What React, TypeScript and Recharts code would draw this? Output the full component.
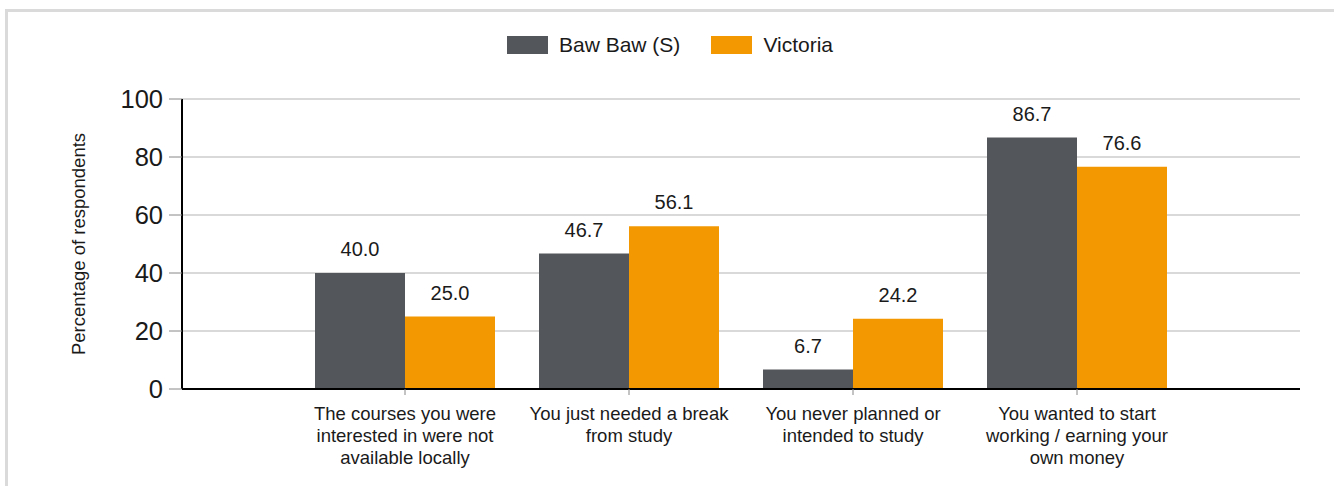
import React from 'react';
import { BarChart, Bar, XAxis, YAxis, CartesianGrid, LabelList } from 'recharts';

const categories = [
  'The courses you were\ninterested in were not\navailable locally',
  'You just needed a break\nfrom study',
  'You never planned or\nintended to study',
  'You wanted to start\nworking / earning your\nown money',
];
const bawBaw = [40.0, 46.7, 6.7, 86.7];
const victoria = [25.0, 56.1, 24.2, 76.6];
const yTicks = [0, 20, 40, 60, 80, 100];
const seriesNames = ['Baw Baw (S)', 'Victoria'];
const seriesColors = ['#53565A', '#F39800'];

const data = categories.map((name, i) => ({ name, baw: bawBaw[i], vic: victoria[i] }));

const FONT = '"Liberation Sans", Arial, sans-serif';

const CategoryTick = (props: any) => {
  const { x, y, payload } = props;
  const lines = String(payload.value).split('\n');
  return (
    <text x={x} y={y} textAnchor="middle" fontSize={18.5} fontFamily={FONT} fill="#1a1a1a">
      {lines.map((l, i) => (
        <tspan key={i} x={x} dy={i === 0 ? 23 : 22}>
          {l}
        </tspan>
      ))}
    </text>
  );
};

const YTitle = (props: any) => {
  const { viewBox } = props;
  const cx = viewBox.x + 16;
  const cy = viewBox.y + viewBox.height / 2;
  return (
    <text
      x={cx}
      y={cy}
      transform={`rotate(-90, ${cx}, ${cy})`}
      textAnchor="middle"
      dominantBaseline="central"
      fontSize={18.5}
      fontFamily={FONT}
      fill="#1a1a1a"
    >
      Percentage of respondents
    </text>
  );
};

const Legend = () => (
  <div
    style={{
      position: 'absolute',
      left: 507,
      top: 33,
      display: 'flex',
      alignItems: 'center',
      fontFamily: FONT,
      fontSize: 21,
      color: '#1a1a1a',
    }}
  >
    {seriesNames.map((n, i) => (
      <div key={n} style={{ display: 'flex', alignItems: 'center', marginRight: i === 0 ? 31 : 0 }}>
        <div style={{ width: 41, height: 18, background: seriesColors[i], marginRight: 11 }} />
        <span>{n}</span>
      </div>
    ))}
  </div>
);

export default function App() {
  return (
    <div
      style={{
        position: 'absolute',
        left: 0,
        top: 0,
        width: 1334,
        height: 486,
        overflow: 'hidden',
        background: '#fff',
      }}
    >
      <div
        style={{
          position: 'absolute',
          left: 5,
          top: 9,
          width: 1400,
          height: 600,
          border: '3px solid #dadada',
        }}
      />
      <Legend />
      <div style={{ position: 'absolute', left: 0, top: 0 }}>
        <BarChart
          width={1334}
          height={486}
          data={data}
          margin={{ top: 99, right: 34, bottom: 7, left: 62 }}
          barCategoryGap={22}
          barGap={0}
        >
          <CartesianGrid vertical={false} stroke="#d9d9d9" strokeWidth={2} />
          <XAxis
            dataKey="name"
            height={90}
            padding={{ left: 111, right: 111 }}
            axisLine={{ stroke: '#000', strokeWidth: 2 }}
            tickLine={{ stroke: '#888' }}
            tickSize={6}
            tickMargin={2}
            interval={0}
            tick={<CategoryTick />}
          />
          <YAxis
            width={120}
            domain={[0, 100]}
            ticks={yTicks}
            axisLine={{ stroke: '#000', strokeWidth: 2 }}
            tickLine={{ stroke: '#888' }}
            tickSize={13}
            tickMargin={6}
            tick={{ fontSize: 25.5, fontFamily: FONT, fill: '#1a1a1a' }}
            label={<YTitle />}
          />
          <Bar dataKey="baw" name={seriesNames[0]} fill={seriesColors[0]} isAnimationActive={false}>
            <LabelList
              dataKey="baw"
              position="top"
              offset={17}
              formatter={(v: any) => Number(v).toFixed(1)}
              style={{ fontSize: 20, fontFamily: FONT, fill: '#1a1a1a' }}
            />
          </Bar>
          <Bar dataKey="vic" name={seriesNames[1]} fill={seriesColors[1]} isAnimationActive={false}>
            <LabelList
              dataKey="vic"
              position="top"
              offset={17}
              formatter={(v: any) => Number(v).toFixed(1)}
              style={{ fontSize: 20, fontFamily: FONT, fill: '#1a1a1a' }}
            />
          </Bar>
        </BarChart>
      </div>
    </div>
  );
}
